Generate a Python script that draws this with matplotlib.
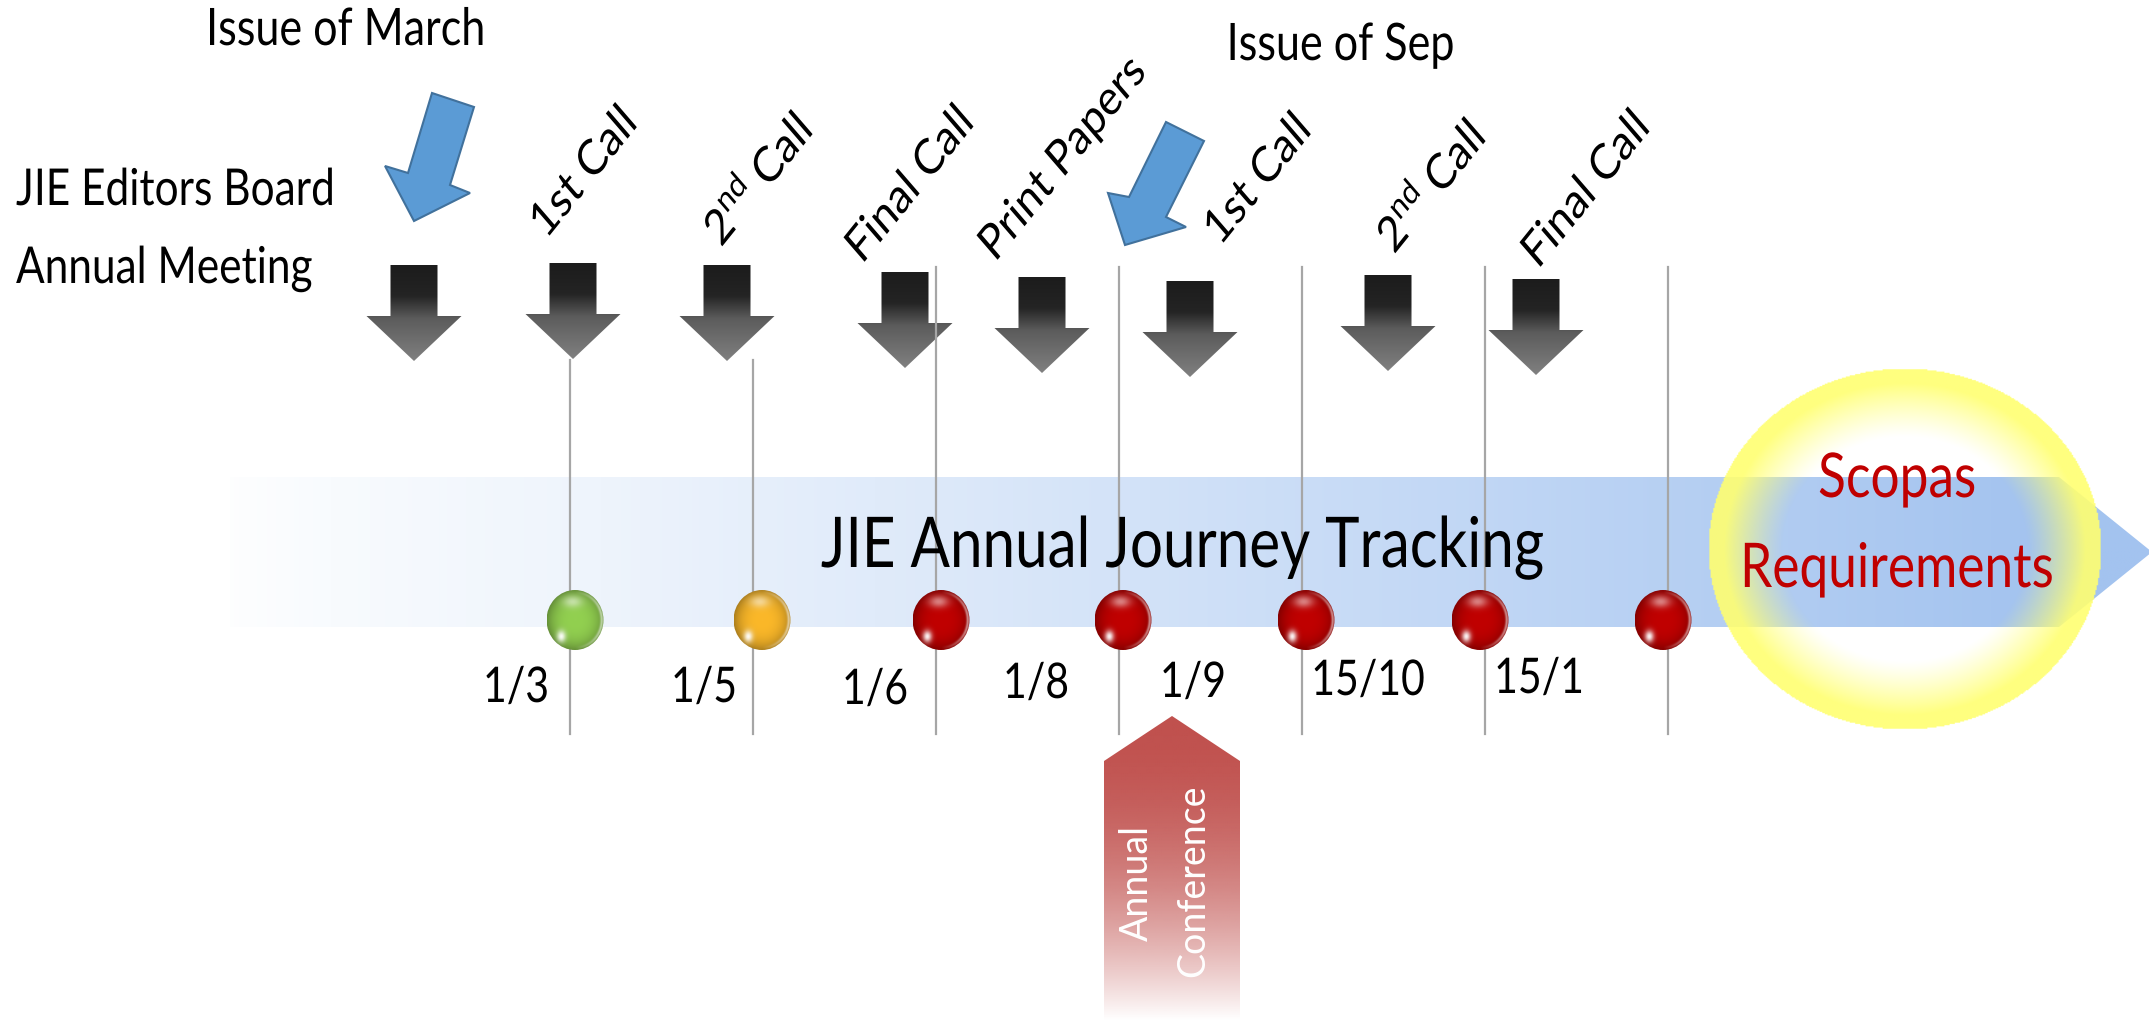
import numpy as np
import matplotlib.pyplot as plt
import matplotlib.patheffects as pe
from matplotlib.patches import Polygon, Ellipse
from matplotlib.colors import to_rgb
from matplotlib.transforms import Affine2D

# =============================================================================
# Data
# =============================================================================
meeting = ['JIE Editors Board', 'Annual Meeting']
issues = ['Issue of March', 'Issue of Sep']
events = ['1st Call', r'2$^{\mathregular{nd}}$ Call', 'Final Call', 'Print Papers',
          '1st Call', r'2$^{\mathregular{nd}}$ Call', 'Final Call']
dates = ['1/3', '1/5', '1/6', '1/8', '1/9', '15/10', '15/1']
ball_colors = ['#92d050', '#fbb829', '#c00000', '#c00000',
               '#c00000', '#c00000', '#c00000']
title = 'JIE Annual Journey Tracking'
goal = ['Scopas', 'Requirements']
conference = ['Annual', 'Conference']

# =============================================================================
# Layout (pixel space of the 2149 x 1021 canvas)
# =============================================================================
W, H = 2149, 1021
FONT = ['Lato', 'DejaVu Sans']
line_x0, line_step = 570, 183
line_top = [360, 360, 267, 267, 267, 267, 267]
line_bot = 734
date_x = [516, 704, 875, 1036, 1193, 1368, 1539]
date_y = [702, 702, 704, 698, 697, 695, 693]
ball_dx = [5, 9, 5, 4, 4, -5, -5]
ball_y = 620
gray_x = [414, 573, 727, 905, 1042, 1190, 1388, 1536]
gray_top = [265, 263, 265, 272, 277, 281, 275, 279]
label_xy = [(546, 240), (721, 248), (862, 265), (995, 263),
            (1220, 247), (1394, 255), (1538, 270)]

fig = plt.figure(figsize=(W / 100, H / 100), dpi=100)
ax = fig.add_axes([0, 0, 1, 1])


class VStretch(pe.AbstractPathEffect):
    """Stretch text vertically about its baseline origin (the slide was stretched)."""

    def __init__(self, sy=1.2):
        super().__init__()
        self.sy = sy

    def draw_path(self, renderer, gc, tpath, affine, rgbFace=None):
        x0, y0 = affine.transform((0, 0))
        aff = affine + Affine2D().translate(-x0, -y0).scale(1, self.sy).translate(x0, y0)
        renderer.draw_path(gc, tpath, aff, rgbFace)


def label(x, y, s, size, **kw):
    kw.setdefault('ha', 'center')
    return ax.text(x, y, s, family=FONT, fontsize=size, va='baseline', zorder=8,
                   path_effects=[VStretch(1.2)], **kw)


def grad_fill(verts, img, extent, z):
    poly = Polygon(verts, closed=True, fc='none', ec='none')
    ax.add_patch(poly)
    im = ax.imshow(img, extent=extent, origin='upper', aspect='auto',
                   interpolation='bilinear', zorder=z)
    im.set_clip_path(poly)


def ramp(pos, stops, colors):
    c = np.array([to_rgb(k) for k in colors])
    return np.stack([np.interp(pos, stops, c[:, i]) for i in range(3)], axis=-1)


# blue band arrow
bx = np.linspace(200, W, 600)
band = ramp(bx, [200, 330, 600, 1150, 2050, 2149],
            ['#ffffff', '#f8fbfe', '#eef4fc', '#d2e2f8', '#a3c3ef', '#a3c3ef'])
grad_fill([(230, 477), (2059, 477), (2152, 552), (2059, 627), (230, 627)],
          band[None, :, :], (200, W, 627, 477), 1)

# yellow halo
cx, cy, rx, ry = 1905, 549, 197, 181
gx, gy = np.meshgrid(np.linspace(cx - rx, cx + rx, 300),
                     np.linspace(cy - ry, cy + ry, 300))
rr = np.sqrt(((gx - cx) / rx) ** 2 + ((gy - cy) / ry) ** 2)
halo = np.zeros(rr.shape + (4,))
halo[..., :3] = to_rgb('#ffff70')
halo[..., 3] = np.where(rr <= 1, np.clip((rr - 0.62) / 0.3, 0, 1) ** 1.2 * 0.9, 0)
ax.imshow(halo, extent=(cx - rx, cx + rx, cy + ry, cy - ry), origin='upper',
          aspect='auto', interpolation='bilinear', zorder=2)

# gray down arrows
for x, t in zip(gray_x, gray_top):
    h = 96
    verts = [(x - 23.5, t), (x + 23.5, t), (x + 23.5, t + 51), (x + 47.5, t + 51),
             (x, t + h), (x - 47.5, t + 51), (x - 23.5, t + 51)]
    gy_ = np.linspace(0, 1, 100)
    img = ramp(gy_, [0, 0.32, 0.5, 0.56, 1],
               ['#1c1c1c', '#242424', '#4e4e4e', '#5c5c5c', '#808080'])
    grad_fill(verts, img[:, None, :], (x - 48, x + 48, t + h, t), 3)

# vertical guide lines
for i in range(len(ball_colors)):
    lx = line_x0 + line_step * i
    ax.plot([lx, lx], [line_top[i], line_bot], color='#a6a6a6', lw=1.6, zorder=4)

# glossy balls
for i, c in enumerate(ball_colors):
    bxc = line_x0 + line_step * i + ball_dx[i]
    u = np.linspace(-1, 1, 120)
    X, Y = np.meshgrid(u, u)
    d = np.sqrt(X ** 2 + Y ** 2)
    base = np.array(to_rgb(c))
    img = base[None, None, :] * (1.0 - 0.3 * d ** 3)[..., None]
    h1 = np.exp(-(((X + 0.1) / 0.35) ** 2 + ((Y + 0.62) / 0.2) ** 2))
    h2 = np.exp(-(((X + 0.5) / 0.16) ** 2 + ((Y - 0.55) / 0.2) ** 2))
    h3 = np.exp(-(((d - 0.93) / 0.05) ** 2)) * np.clip(X, 0, 1)
    hl = np.clip(0.5 * h1 + 0.95 * h2 + 0.6 * h3, 0, 1)[..., None]
    img = img * (1 - hl) + hl
    e = Ellipse((bxc, ball_y), 57, 60, fc='none', ec='none')
    ax.add_patch(e)
    im = ax.imshow(img, extent=(bxc - 28.5, bxc + 28.5, ball_y + 30, ball_y - 30),
                   origin='upper', aspect='auto', interpolation='bilinear', zorder=5)
    im.set_clip_path(e)

# blue pointer arrows
blue_arrows = [
    [(432, 93), (474, 107), (450, 185), (470, 193), (414, 221), (385, 166), (408, 173)],
    [(1166, 122), (1204, 141), (1166, 217), (1186, 227), (1125, 245), (1108, 193), (1129, 197)],
]
for v in blue_arrows:
    ax.add_patch(Polygon(v, closed=True, fc='#5b9bd5', ec='#41719c', lw=1.5, zorder=6))

# red conference arrow
ry_ = np.linspace(716, H, 200)
t = (ry_ - 716) / (H - 716)
red = np.zeros((200, 1, 4))
red[..., :3] = to_rgb('#c0504d')
red[:, 0, 3] = 1 - t ** 2
grad_fill([(1104, H + 5), (1104, 761), (1172, 716), (1240, 761), (1240, H + 5)],
          red, (1104, 1240, H, 716), 6)

# texts
label(345, 45, issues[0], 31)
label(1340, 60, issues[1], 31)
label(16, 205, meeting[0], 30.5, ha='left')
label(16, 283, meeting[1], 30.5, ha='left')
for (x, y), s in zip(label_xy, events):
    label(x, y, s, 29.5, ha='left', rotation=46, rotation_mode='anchor')
for x, y, s in zip(date_x, date_y, dates):
    label(x, y, s, 29.5)
label(1183, 567, title, 42)
label(1897, 497, goal[0], 37, color='#c00000')
label(1897, 587, goal[1], 37, color='#c00000')
ax.text(1137, 883, conference[0], family=FONT, fontsize=27,
        color='white', rotation=90, ha='center', va='center', zorder=8)
ax.text(1193, 881, conference[1], family=FONT, fontsize=27,
        color='white', rotation=90, ha='center', va='center', zorder=8)

ax.set_xlim(0, W)
ax.set_ylim(H, 0)
ax.axis('off')
fig.savefig('out.png', dpi=100)
